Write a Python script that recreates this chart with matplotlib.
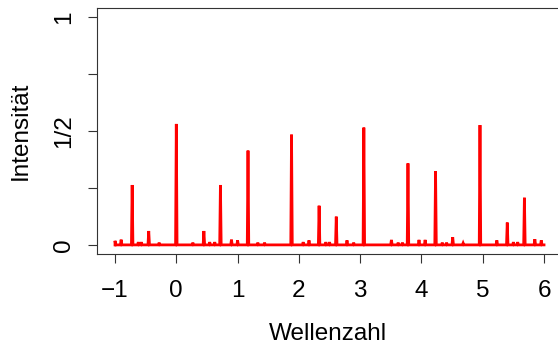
import matplotlib
matplotlib.use("Agg")
import matplotlib.pyplot as plt
import numpy as np

plt.rcParams['font.family'] = ['Liberation Sans', 'DejaVu Sans']

# peak positions (Wellenzahl) and intensities
peak_pos = [-1.00, -0.90, -0.72, -0.62, -0.57, -0.45, -0.28,
            0.00, 0.27, 0.45, 0.545, 0.627, 0.72, 0.90, 1.00,
            1.17, 1.33, 1.44, 1.88, 2.07, 2.165, 2.33, 2.44, 2.50,
            2.61, 2.785, 2.894, 3.06, 3.51, 3.62, 3.69, 3.78, 3.96,
            4.06, 4.23, 4.34, 4.41, 4.51, 4.68, 4.955, 5.23, 5.40,
            5.50, 5.57, 5.68, 5.85, 5.955]
peak_height = [0.018, 0.023, 0.263, 0.012, 0.012, 0.061, 0.010,
               0.531, 0.010, 0.061, 0.012, 0.012, 0.263, 0.023, 0.020,
               0.414, 0.010, 0.010, 0.484, 0.012, 0.020, 0.172, 0.012, 0.012,
               0.124, 0.020, 0.010, 0.515, 0.022, 0.010, 0.010, 0.358, 0.022,
               0.022, 0.323, 0.010, 0.010, 0.034, 0.008, 0.526, 0.020, 0.098,
               0.012, 0.012, 0.207, 0.025, 0.020]
x_range = (-1.0, 6.0)

y_ticks = [0, 0.25, 0.5, 0.75, 1]
y_labels = ['0', '', '1/2', '', '1']
x_ticks = [-1, 0, 1, 2, 3, 4, 5, 6]
x_labels = ['\u22121', '0', '1', '2', '3', '4', '5', '6']

# spectrum line: baseline with narrow spikes
w = 0.012
xs = [x_range[0]]
ys = [0.0]
for p, h in sorted(zip(peak_pos, peak_height)):
    xs += [p - w, p, p + w]
    ys += [0.0, h, 0.0]
xs.append(x_range[1])
ys.append(0.0)
xs = np.clip(xs, *x_range)

fig = plt.figure(figsize=(5.58, 3.45), dpi=100)
W, H = 558, 345
ax = fig.add_axes([97 / W, (H - 254) / H, (W - 97) / W, (254 - 8) / H])
ax.plot(xs, ys, color='red', lw=2.0, solid_joinstyle='miter')

# right edge of the box falls outside the picture
ax.set_xlim(-1.294, 6.228)
ax.set_ylim(-0.04, 1.04)
ax.set_xticks(x_ticks)
ax.set_xticklabels(x_labels)
ax.set_yticks(y_ticks)
ax.set_yticklabels(y_labels, rotation=90, va='center')
ax.tick_params(axis='both', length=6.5, width=0.8, labelsize=17.5, color='#333333')
ax.tick_params(axis='x', pad=12.5)
ax.tick_params(axis='y', pad=9)
for s in ax.spines.values():
    s.set_linewidth(0.8)
    s.set_color('#333333')
ax.spines['right'].set_visible(False)

ax.set_xlabel('Wellenzahl', fontsize=17.5, labelpad=15)
ax.set_ylabel('Intensität', fontsize=17.5, labelpad=16)

fig.savefig('out.png', dpi=100)
